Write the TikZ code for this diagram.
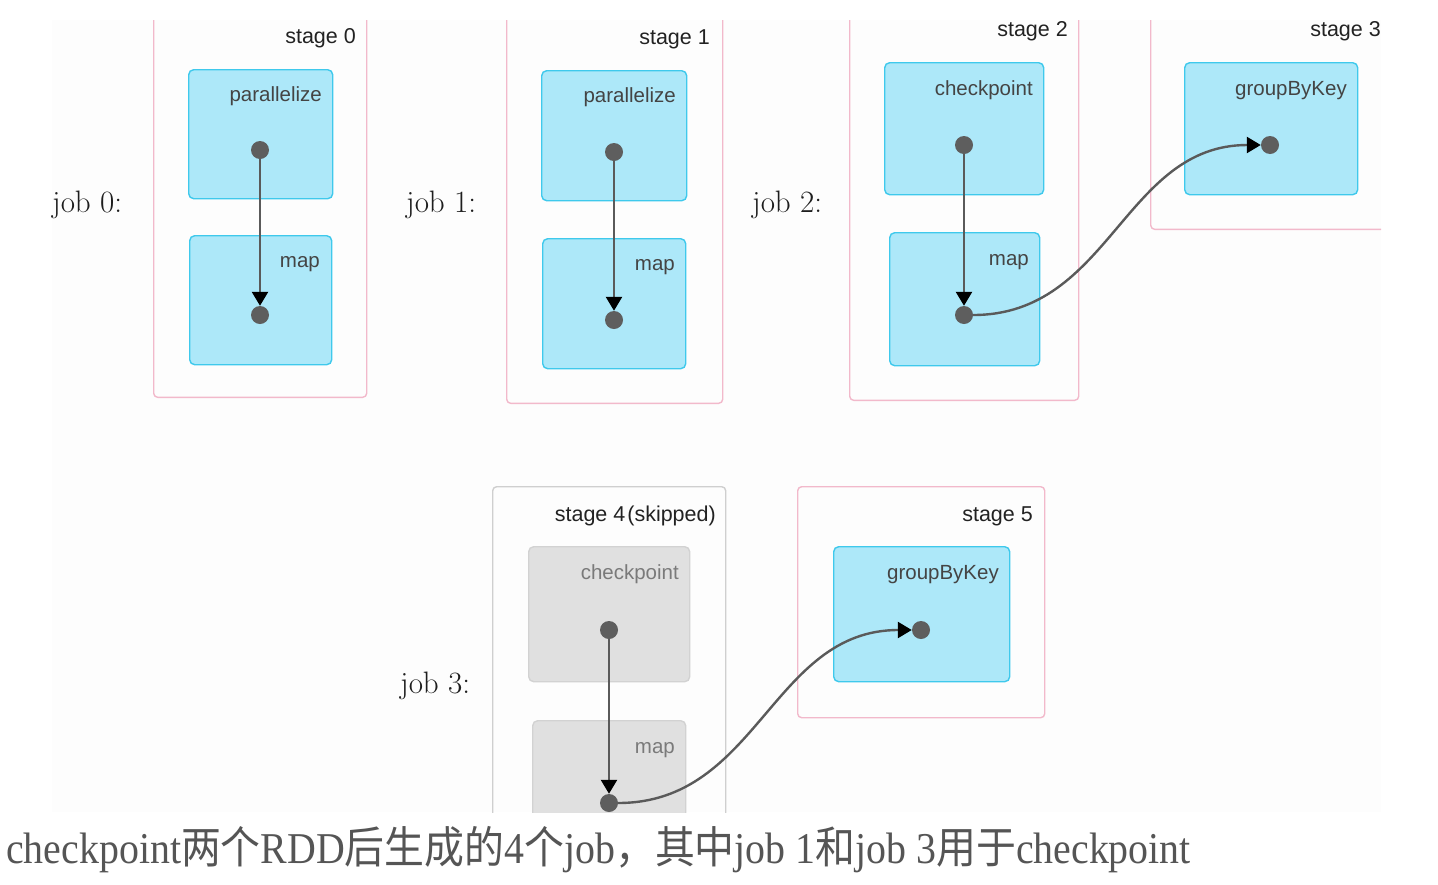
\documentclass[tikz,border=0pt]{standalone}
\usepackage{fontspec}
\usepackage{graphicx}
\setmainfont{Latin Modern Roman}
\newfontfamily\capfont{Liberation Serif}
\newfontfamily\cjk{Noto Sans CJK SC}
\newfontfamily\lsans{Liberation Sans}
\usetikzlibrary{arrows.meta}
\definecolor{bluefill}{HTML}{ADE8F9}
\definecolor{blueline}{HTML}{3FC9EC}
\definecolor{pinkline}{HTML}{F2B9CB}
\definecolor{skipline}{HTML}{CFCFCF}
\definecolor{grayfill}{HTML}{E0E0E0}
\definecolor{grayline}{HTML}{D2D2D2}
\definecolor{dotcol}{HTML}{5E5E5E}
\definecolor{linecol}{HTML}{5A5A5A}
\definecolor{bgcol}{HTML}{FDFDFD}
\definecolor{stagetxt}{HTML}{222222}
\definecolor{optxt}{HTML}{444444}
\definecolor{graytxt}{HTML}{7A7A7A}
\definecolor{jobtxt}{HTML}{1E1E1E}
\definecolor{captxt}{HTML}{555555}
\begin{document}
\begin{tikzpicture}[x=1pt,y=-1pt,
  stagebox/.style={draw=pinkline,line width=1.4pt,rounded corners=4pt,inner sep=0,anchor=south west},
  skipbox/.style={stagebox,draw=skipline,anchor=north west},
  opbox/.style={draw=blueline,fill=bluefill,line width=1.4pt,rounded corners=5pt,inner sep=0,anchor=north west},
  grayop/.style={opbox,draw=grayline,fill=grayfill},
  dot/.style={circle,fill=dotcol,minimum size=18pt,inner sep=0},
  stagelbl/.style={anchor=base east,inner sep=0,font=\lsans\fontsize{21.5}{21.5}\selectfont,text=stagetxt},
  oplbl/.style={stagelbl,font=\lsans\fontsize{20.5}{20.5}\selectfont,text=optxt},
  graylbl/.style={oplbl,text=graytxt},
  joblbl/.style={anchor=base west,inner sep=0,font=\fontsize{31}{31}\selectfont,text=jobtxt},
  flow/.style={draw=linecol,line width=2.4pt,-{Triangle[length=14pt,width=16pt,color=black]}},
  curveflow/.style={flow,out=0,in=180,looseness=1.05},
]
\useasboundingbox (0,0) rectangle (1438,884);
\fill[bgcol] (52,20) rectangle (1381,812);
\begin{scope}
\clip (52,20) rectangle (1381,812);
% ---------- job 0 ----------
\node[stagebox,minimum width=213,minimum height=420] (s0) at (153,398) {};
\node[stagelbl] (s0l) at (356,43) {stage 0};
\node[opbox,minimum width=144,minimum height=129] (p0) at (188,69) {};
\node[oplbl] (p0l) at (322,101) {parallelize};
\node[opbox,minimum width=142,minimum height=129] (m0) at (189,235) {};
\node[oplbl] (m0l) at (320,267) {map};
\node[dot] (d0a) at (260,150) {};
\node[dot] (d0b) at (260,315) {};
\draw[flow] (d0a) -- (d0b);
% ---------- job 1 ----------
\node[stagebox,minimum width=216,minimum height=426] (s1) at (506,404) {};
\node[stagelbl] (s1l) at (710,44) {stage 1};
\node[opbox,minimum width=145,minimum height=130] (p1) at (541,70) {};
\node[oplbl] (p1l) at (676,102) {parallelize};
\node[opbox,minimum width=143,minimum height=130] (m1) at (542,238) {};
\node[oplbl] (m1l) at (675,270) {map};
\node[dot] (d1a) at (614,152) {};
\node[dot] (d1b) at (614,320) {};
\draw[flow] (d1a) -- (d1b);
% ---------- job 2 ----------
\node[stagebox,minimum width=229,minimum height=423] (s2) at (849,401) {};
\node[stagelbl] (s2l) at (1068,36) {stage 2};
\node[opbox,minimum width=159,minimum height=132] (c2) at (884,62) {};
\node[oplbl] (c2l) at (1033,95) {checkpoint};
\node[opbox,minimum width=150,minimum height=133] (m2) at (889,232) {};
\node[oplbl] (m2l) at (1029,265) {map};
\node[dot] (d2a) at (964,145) {};
\node[dot] (d2b) at (964,315) {};
\draw[flow] (d2a) -- (d2b);
% ---------- stage 3 ----------
\node[stagebox,minimum width=280,minimum height=252] (s3) at (1150,230) {};
\node[stagelbl] (s3l) at (1381,36) {stage 3};
\node[opbox,minimum width=173,minimum height=132] (g3) at (1184,62) {};
\node[oplbl] (g3l) at (1347,95) {groupByKey};
\node[dot] (d3) at (1270,145) {};
\draw[curveflow] (d2b) to (d3);
% ---------- job 3 ----------
\node[skipbox,minimum width=233,minimum height=360] (s4) at (492,486) {};
\node[stagelbl] (s4l) at (716,521) {stage 4\hspace{2pt}(skipped)};
\node[grayop,minimum width=161,minimum height=135] (c4) at (528,546) {};
\node[graylbl] (c4l) at (679,579) {checkpoint};
\node[grayop,minimum width=153,minimum height=140] (m4) at (532,720) {};
\node[graylbl] (m4l) at (675,753) {map};
\node[dot] (d4a) at (609,630) {};
\node[dot] (d4b) at (609,803) {};
\draw[flow] (d4a) -- (d4b);
\node[stagebox,anchor=north west,minimum width=247,minimum height=231] (s5) at (797,486) {};
\node[stagelbl] (s5l) at (1033,521) {stage 5};
\node[opbox,minimum width=176,minimum height=135] (g5) at (833,546) {};
\node[oplbl] (g5l) at (999,579) {groupByKey};
\node[dot] (d5) at (921,630) {};
\draw[curveflow] (d4b) to (d5);
\end{scope}
% ---------- job labels ----------
\node[joblbl] (j0) at (52,212) {job 0:};
\node[joblbl] (j1) at (406,212) {job 1:};
\node[joblbl] (j2) at (752,212) {job 2:};
\node[joblbl] (j3) at (400,693) {job 3:};
% ---------- caption ----------
\node[anchor=base west,inner sep=0,text=captxt] (cap) at (6,863)
  {\scalebox{0.906}[1]{\capfont\fontsize{44}{44}\selectfont checkpoint{\cjk 两个}RDD{\cjk 后生成的}4{\cjk 个}job{\cjk ，其中}job 1{\cjk 和}job 3{\cjk 用于}checkpoint}};
\end{tikzpicture}
\end{document}
